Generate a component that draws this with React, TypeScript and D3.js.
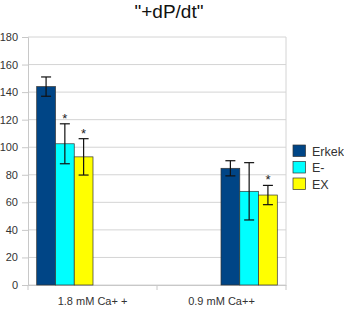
import React, { useEffect, useRef } from 'react';
import * as d3 from 'd3';

const categories = ['1.8 mM Ca+ +', '0.9 mM Ca++'];
const seriesNames = ['Erkek', 'E-', 'EX'];
const seriesColors = ['#004586', '#00ffff', '#ffff00'];
const erkek = [144, 84.7];
const eMinus = [102.5, 68];
const ex = [93, 65.3];
const erkekErr = [7, 5.5];
const eMinusErr = [14.5, 20.8];
const exErr = [13.2, 7];
const marked = [
  [false, false],
  [true, false],
  [true, true],
];
const yTicks = [0, 20, 40, 60, 80, 100, 120, 140, 160, 180];

const App = () => {
  const ref = useRef<SVGSVGElement>(null);

  useEffect(() => {
    const width = 344, height = 309;
    const margin = { top: 37, right: 58, bottom: 24, left: 28 };
    const svg = d3.select(ref.current);
    svg.selectAll('*').remove();
    svg.attr('width', width).attr('height', height);

    const data = [erkek, eMinus, ex];
    const errs = [erkekErr, eMinusErr, exErr];

    const x0 = d3.scaleBand()
      .domain(categories)
      .range([margin.left, width - margin.right]);

    // bars sit offset inside each category, as in the original
    const groupStart = d3.scaleLinear().domain([0, 1]).range([36.7, 221]);
    const x1 = d3.scaleBand()
      .domain(seriesNames)
      .range([0, 56.3]);

    const y = d3.scaleLinear()
      .domain([0, 180])
      .range([height - margin.bottom, margin.top]);

    // title
    svg.append('text')
      .attr('x', 169)
      .attr('y', 18)
      .attr('text-anchor', 'middle')
      .attr('font-family', 'Liberation Sans, Arial, sans-serif')
      .attr('font-size', 19)
      .attr('fill', '#111')
      .text('"+dP/dt"');

    // gridlines
    svg.append('g')
      .selectAll('line')
      .data(yTicks)
      .enter().append('line')
      .attr('x1', margin.left)
      .attr('x2', width - margin.right)
      .attr('y1', d => y(d))
      .attr('y2', d => y(d))
      .attr('stroke', '#d4d4d4')
      .attr('stroke-width', 1);

    // right border
    svg.append('line')
      .attr('x1', width - margin.right).attr('x2', width - margin.right)
      .attr('y1', y(180)).attr('y2', y(0))
      .attr('stroke', '#d4d4d4');

    // y axis
    const yAxis = svg.append('g')
      .attr('transform', `translate(${margin.left},0)`)
      .call(d3.axisLeft(y).tickValues(yTicks).tickSize(6).tickPadding(4));
    yAxis.select('.domain').attr('stroke', '#c8c8c8');
    yAxis.selectAll('.tick line').attr('stroke', '#c8c8c8');
    yAxis.selectAll('text')
      .attr('font-family', 'Liberation Sans, Arial, sans-serif')
      .attr('font-size', 11)
      .attr('fill', '#333');

    // x axis
    const xAxis = svg.append('g')
      .attr('transform', `translate(0,${y(0)})`)
      .call(d3.axisBottom(x0).tickSize(0).tickPadding(12));
    xAxis.select('.domain').attr('stroke', '#c8c8c8');
    xAxis.selectAll('text')
      .attr('font-family', 'Liberation Sans, Arial, sans-serif')
      .attr('font-size', 11)
      .attr('fill', '#333');
    svg.append('g')
      .selectAll('line')
      .data([margin.left, x0(categories[1]) as number, width - margin.right])
      .enter().append('line')
      .attr('x1', d => d).attr('x2', d => d)
      .attr('y1', y(0)).attr('y2', y(0) + 5)
      .attr('stroke', '#c8c8c8');

    // bars
    data.forEach((series, s) => {
      const g = svg.append('g');
      series.forEach((v, i) => {
        const bx = groupStart(i) + (x1(seriesNames[s]) as number);
        const bw = x1.bandwidth();
        g.append('rect')
          .attr('x', bx)
          .attr('y', y(v))
          .attr('width', bw)
          .attr('height', y(0) - y(v))
          .attr('fill', seriesColors[s])
          .attr('stroke', '#333')
          .attr('stroke-width', 0.7);

        const cx = bx + bw / 2;
        const e = errs[s][i];
        g.append('line')
          .attr('x1', cx).attr('x2', cx)
          .attr('y1', y(v + e)).attr('y2', y(v - e))
          .attr('stroke', '#111').attr('stroke-width', 1.2);
        [v + e, v - e].forEach(t => {
          g.append('line')
            .attr('x1', cx - 5).attr('x2', cx + 5)
            .attr('y1', y(t)).attr('y2', y(t))
            .attr('stroke', '#111').attr('stroke-width', 1.2);
        });
        if (marked[s][i]) {
          g.append('text')
            .attr('x', cx)
            .attr('y', y(v + e) - 1)
            .attr('text-anchor', 'middle')
            .attr('font-family', 'Liberation Sans, Arial, sans-serif')
            .attr('font-size', 13)
            .attr('fill', '#222')
            .text('*');
        }
      });
    });

    // legend
    const legend = svg.append('g').attr('transform', 'translate(293,145)');
    seriesNames.forEach((name, i) => {
      legend.append('rect')
        .attr('x', 0)
        .attr('y', i * 16.5)
        .attr('width', 12.5)
        .attr('height', 11.5)
        .attr('fill', seriesColors[i])
        .attr('stroke', '#333')
        .attr('stroke-width', 0.7);
      legend.append('text')
        .attr('x', 19)
        .attr('y', i * 16.5 + 10.5)
        .attr('font-family', 'Liberation Sans, Arial, sans-serif')
        .attr('font-size', 12.5)
        .attr('fill', '#333')
        .text(name);
    });
  }, []);

  return (
    <svg ref={ref} style={{ position: 'absolute', left: 0, top: 0, background: '#fff' }} />
  );
};

export default App;
